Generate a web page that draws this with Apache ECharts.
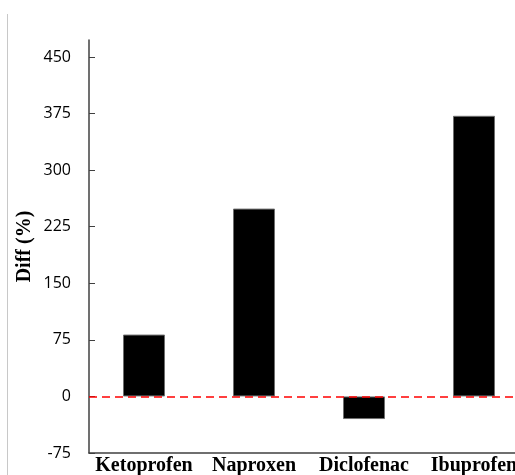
<!DOCTYPE html>
<html>
<head>
<meta charset="utf-8">
<script src="https://cdn.jsdelivr.net/npm/echarts@6/dist/echarts.min.js"></script>
<style>
  html, body { margin: 0; padding: 0; background: #fff; }
  #chart { width: 515px; height: 475px; }
</style>
</head>
<body>
<div id="chart"></div>
<script>
// drugs on the x axis, % difference per drug
const drugs = ["Ketoprofen", "Naproxen", "Diclofenac", "Ibuprofen"];
const diffPct = [82, 249, -30, 372];
const yTicks = [-75, 0, 75, 150, 225, 300, 375, 450];

const chart = echarts.init(document.getElementById("chart"));

chart.setOption({
  backgroundColor: "#fff",
  animation: false,
  // plot runs past the right edge, like the cropped original
  grid: { left: 89, width: 440, top: 40, bottom: 22, outerBoundsMode: "none", containLabel: false },
  graphic: [{
    type: "line",
    shape: { x1: 7.5, y1: 14, x2: 7.5, y2: 475 },
    style: { stroke: "#c8c8c8", lineWidth: 1 },
  }],
  xAxis: {
    type: "category",
    data: drugs,
    axisLine: { onZero: false, lineStyle: { color: "#404040", width: 1.5 } },
    axisTick: { show: false },
    axisLabel: {
      margin: 3, color: "#000", fontFamily: "Liberation Serif",
      fontWeight: "bold", fontSize: 20, interval: 0,
    },
  },
  yAxis: {
    type: "value",
    min: -75,
    max: 472.5,
    name: "Diff (%)",
    nameLocation: "middle",
    nameGap: 54,
    nameMoveOverlap: false,
    nameTextStyle: { fontFamily: "Liberation Serif", fontWeight: "bold", fontSize: 20, color: "#000" },
    axisLine: { show: true, lineStyle: { color: "#404040", width: 1.5 } },
    axisTick: { show: true, inside: true, length: 6, customValues: yTicks, lineStyle: { color: "#404040" } },
    axisLabel: { customValues: yTicks, margin: 18, color: "#000", fontFamily: "Open Sans", fontSize: 16 },
    splitLine: { show: false },
  },
  series: [{
    type: "bar",
    data: diffPct,
    barWidth: 42,
    itemStyle: { color: "#000", borderColor: "#6e6e6e", borderWidth: 1 },
    markLine: {
      silent: true,
      symbol: "none",
      label: { show: false },
      lineStyle: { color: "#ff0000", type: [8, 5], width: 1.5 },
      data: [{ yAxis: 0 }],
    },
  }],
});
</script>
</body>
</html>
